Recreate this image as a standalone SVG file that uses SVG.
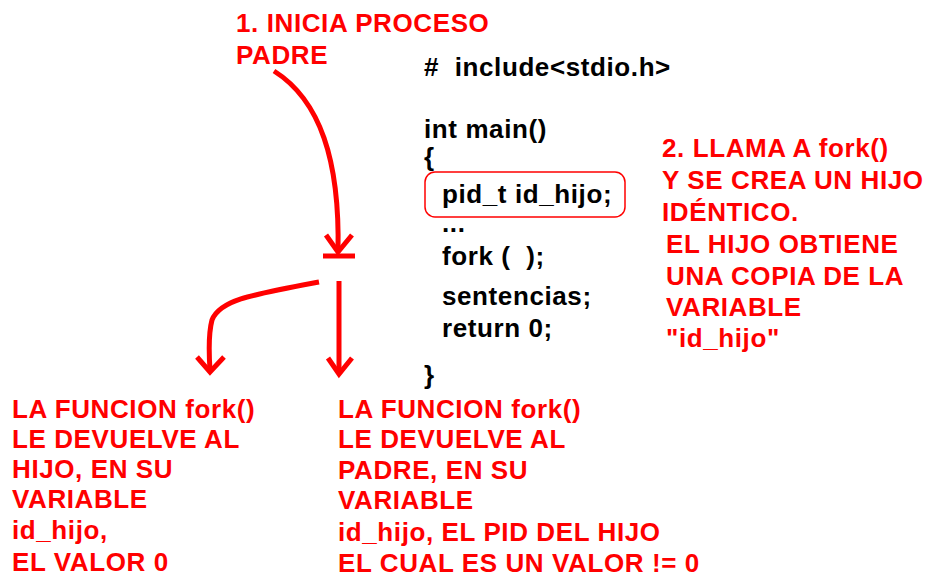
<svg xmlns="http://www.w3.org/2000/svg" width="938" height="586" viewBox="0 0 938 586">
<style>
text{font-family:"Liberation Sans",Arial,sans-serif;font-weight:bold;font-size:26px;letter-spacing:0.6px}
.r{fill:#ff0000}.k{fill:#000}
.c{fill:none;stroke:#ff0000;stroke-width:5}
</style>
<rect width="938" height="586" fill="#fff"/>
<g id="connectors">
<path class="c" d="M274,71 C320,100 340,160 338,252"/>
<path class="c" d="M326,235 L338,252 L352,235"/>
<line class="c" x1="323" y1="256" x2="355" y2="256"/>
<path class="c" d="M319,282 C250,295 220,300 212,320 C208,335 209,355 210,370"/>
<path class="c" d="M197,357 L210,372 L224,357"/>
<line class="c" x1="339" y1="281" x2="339" y2="372"/>
<path class="c" d="M328,358 L339,374 L352,358"/>
</g>
<g id="start"><text class="r" x="236" y="32">1. INICIA PROCESO</text><text class="r" x="236" y="64">PADRE</text></g>
<g id="code">
<text class="k" x="424" y="76" xml:space="preserve">#  include&lt;stdio.h&gt;</text>
<text class="k" x="424" y="138">int main()</text>
<text class="k" x="424" y="166">{</text>
<rect x="425" y="172" width="200" height="45" rx="10" fill="none" stroke="#ff0000" stroke-width="1.5"/>
<text class="k" x="442" y="203">pid_t id_hijo;</text>
<text class="k" x="442" y="232">...</text>
<text class="k" x="442" y="265" xml:space="preserve">fork (  );</text>
<text class="k" x="442" y="305">sentencias;</text>
<text class="k" x="442" y="337">return 0;</text>
<text class="k" x="424" y="384">}</text>
</g>
<g id="note2">
<text class="r" x="662" y="157">2. LLAMA A fork()</text>
<text class="r" x="662" y="189">Y SE CREA UN HIJO</text>
<text class="r" x="662" y="221">IDÉNTICO.</text>
<text class="r" x="666" y="253">EL HIJO OBTIENE</text>
<text class="r" x="666" y="285">UNA COPIA DE LA</text>
<text class="r" x="666" y="316">VARIABLE</text>
<text class="r" x="666" y="347">"id_hijo"</text>
</g>
<g id="child">
<text class="r" x="12" y="418">LA FUNCION fork()</text>
<text class="r" x="12" y="448">LE DEVUELVE AL</text>
<text class="r" x="12" y="478">HIJO, EN SU</text>
<text class="r" x="12" y="508">VARIABLE</text>
<text class="r" x="12" y="539">id_hijo,</text>
<text class="r" x="12" y="571">EL VALOR 0</text>
</g>
<g id="parent">
<text class="r" x="338" y="418">LA FUNCION fork()</text>
<text class="r" x="338" y="448">LE DEVUELVE AL</text>
<text class="r" x="338" y="479">PADRE, EN SU</text>
<text class="r" x="338" y="509">VARIABLE</text>
<text class="r" x="338" y="541">id_hijo, EL PID DEL HIJO</text>
<text class="r" x="338" y="572">EL CUAL ES UN VALOR != 0</text>
</g>
</svg>
